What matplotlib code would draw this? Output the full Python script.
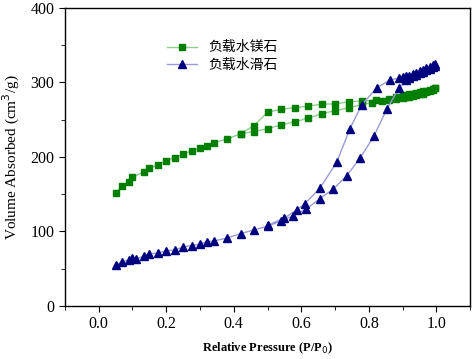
import numpy as np
import matplotlib
matplotlib.use("Agg")
import matplotlib.pyplot as plt
from matplotlib.ticker import MultipleLocator

plt.rcParams["font.family"] = ["Liberation Serif", "Noto Sans CJK SC"]

# 负载水镁石 — adsorption / desorption
mg_ads_x = [0.05, 0.07, 0.09, 0.10, 0.135, 0.15, 0.175, 0.20, 0.225, 0.25, 0.275, 0.30,
            0.32, 0.34, 0.38, 0.42, 0.46, 0.50, 0.54, 0.58, 0.62, 0.66, 0.70, 0.74,
            0.78, 0.81, 0.84, 0.86, 0.88, 0.90, 0.91, 0.92, 0.93, 0.94, 0.95, 0.96,
            0.97, 0.98, 0.99, 0.995]
mg_ads_y = [152, 161, 166, 173, 180, 185, 189, 195, 199, 204, 208, 212,
            215, 219, 224, 231, 234, 238, 243, 247, 252, 258, 262, 266,
            270, 273, 275, 277, 278, 279, 280, 281, 282, 283, 284, 285,
            287, 288, 290, 292]
mg_des_x = [0.995, 0.99, 0.98, 0.97, 0.96, 0.95, 0.94, 0.93, 0.92, 0.91, 0.90, 0.88,
            0.86, 0.82, 0.78, 0.74, 0.70, 0.66, 0.62, 0.58, 0.54, 0.50, 0.46, 0.42]
mg_des_y = [292, 291, 290, 289, 288, 287, 286, 285, 284, 283, 282, 280,
            278, 276, 275, 274, 271, 271, 268, 266, 264, 260, 242, 231]

# 负载水滑石 — adsorption / desorption
ht_ads_x = [0.05, 0.07, 0.09, 0.10, 0.11, 0.135, 0.15, 0.175, 0.20, 0.225, 0.25, 0.275,
            0.30, 0.32, 0.34, 0.38, 0.42, 0.46, 0.50, 0.54, 0.575, 0.615, 0.655, 0.695,
            0.735, 0.775, 0.815, 0.853, 0.89, 0.91, 0.92, 0.93, 0.94, 0.95, 0.96, 0.97,
            0.98, 0.99, 0.995]
ht_ads_y = [55, 59, 62, 64, 63, 67, 70, 71, 74, 75, 79, 81,
            83, 86, 87, 91, 97, 102, 107, 114, 121, 130, 144, 157,
            175, 199, 228, 264, 293, 303, 306, 308, 310, 312, 314, 316,
            318, 320, 322]
ht_des_x = [0.995, 0.99, 0.98, 0.97, 0.96, 0.95, 0.94, 0.93, 0.92, 0.91, 0.90, 0.89,
            0.862, 0.824, 0.779, 0.744, 0.705, 0.655, 0.61, 0.587, 0.55, 0.50]
ht_des_y = [325, 323, 321, 319, 317, 315, 313, 311, 309, 308, 307, 306,
            303, 293, 270, 238, 193, 158, 137, 129, 118, 108]

GREEN, GREEN_LINE = "#007f00", "#8fd08f"
NAVY, NAVY_LINE = "#00007f", "#9a9ad8"

fig = plt.figure(figsize=(4.74, 3.59), dpi=100)
ax = fig.add_axes([0.137, 0.148, 0.855, 0.83])

mg_x = mg_ads_x + mg_des_x
mg_y = mg_ads_y + mg_des_y
ht_x = ht_ads_x + ht_des_x
ht_y = ht_ads_y + ht_des_y

ax.plot(mg_x, mg_y, "-s", color=GREEN_LINE, mfc=GREEN, mec=GREEN, ms=5, lw=1,
        label="负载水镁石")
ax.plot(ht_x, ht_y, "-^", color=NAVY_LINE, mfc=NAVY, mec=NAVY, ms=6, lw=1,
        label="负载水滑石")

ax.set_xlim(-0.1, 1.1)
ax.set_ylim(0, 400)
ax.xaxis.set_minor_locator(MultipleLocator(0.1))
ax.yaxis.set_major_locator(MultipleLocator(100))
ax.yaxis.set_minor_locator(MultipleLocator(50))
ax.set_xticks([0.0, 0.2, 0.4, 0.6, 0.8, 1.0])
ax.tick_params(which="both", direction="out", top=False, right=False, labelsize=11.5)
ax.tick_params(which="major", length=4)
ax.tick_params(which="minor", length=3)
for s in ax.spines.values():
    s.set_linewidth(1.0)

ax.set_xlabel("Relative Pressure (P/P$_0$)", fontsize=9, weight="bold", labelpad=6)
ax.set_ylabel("Volume Absorbed (cm$^3$/g)", fontsize=11, labelpad=6)

ax.legend(loc="upper left", bbox_to_anchor=(0.22, 0.93), frameon=False,
          fontsize=10, handlelength=2.2, labelspacing=0.3)

fig.savefig("out.png", dpi=100, facecolor="white")
